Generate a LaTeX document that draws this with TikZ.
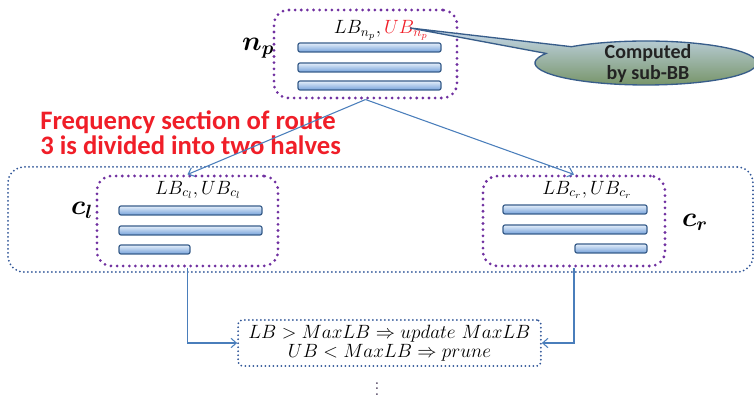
\documentclass[tikz,border=0pt]{standalone}
\usepackage{amsmath}
\usepackage{fontspec}
\newfontfamily\carlito{Carlito}
\usetikzlibrary{arrows.meta,shapes.callouts}

\definecolor{bbpurple}{RGB}{112,48,160}
\definecolor{bbblue}{RGB}{47,85,151}
\definecolor{linkblue}{RGB}{74,126,187}
\definecolor{barline}{RGB}{56,93,138}
\definecolor{bartop}{RGB}{228,238,250}
\definecolor{barbot}{RGB}{118,162,218}
\definecolor{bbred}{RGB}{240,30,40}
\definecolor{calltop}{RGB}{200,218,240}
\definecolor{callbot}{RGB}{115,145,98}
\definecolor{darktext}{RGB}{35,35,35}
\definecolor{dotgray}{RGB}{63,49,81}

\tikzset{
  nodebox/.style={draw=bbpurple,line width=2.3pt,line cap=round,dash pattern=on 0pt off 4.6pt,rounded corners=11pt,inner sep=0pt},
  groupbox/.style={draw=bbblue,line width=1.5pt,line cap=round,dash pattern=on 0pt off 3pt,rounded corners=12pt,inner sep=0pt},
  rulebox/.style={groupbox,rounded corners=3pt},
  bar/.style={draw=barline,line width=0.9pt,rounded corners=1.5pt,top color=bartop,bottom color=barbot},
  link/.style={draw=linkblue,line width=0.8pt,-{Straight Barb[length=4pt,width=7pt]}},
  boundtext/.style={font=\fontsize{14}{17}\selectfont,inner sep=0pt},
  nodetag/.style={font=\fontsize{20}{21}\selectfont,inner sep=0pt}
}

\begin{document}
\begin{tikzpicture}[x=0.75pt,y=-0.75pt]
    \useasboundingbox (0,0) rectangle (754,398);
    \node[groupbox,minimum width=558.75pt,minimum height=78.75pt] (group) at (380.5,219.5) {};
    \node[nodebox,minimum width=137.25pt,minimum height=66pt] (np) at (365.5,54) {};
    \node[nodebox,minimum width=135.75pt,minimum height=67.5pt] (cl) at (187.5,221) {};
    \node[nodebox,minimum width=136.5pt,minimum height=67.5pt] (cr) at (574,221) {};
    \node[rulebox,minimum width=227pt,minimum height=34.5pt,align=center,font=\fontsize{14}{14.5}\selectfont] (rule) at (389.5,343)
        {$LB>MaxLB\Rightarrow update\ MaxLB$\\$UB<MaxLB\Rightarrow prune$};

    \foreach \y in {43,63,81} \draw[bar] (298,\y) rectangle (441,\y+9);
    \foreach \y/\xr in {206/262,226/262,245/190} \draw[bar] (119,\y) rectangle (\xr,\y+9);
    \foreach \y/\xl in {205/503,225/503,244/575} \draw[bar] (\xl,\y) rectangle (647,\y+9);

    \node[boundtext] (nplab) at (381,30) {$LB_{n_p}, {\color{bbred}UB_{n_p}}$};
    \node[boundtext] (cllab) at (198,190) {$LB_{c_l},UB_{c_l}$};
    \node[boundtext] (crlab) at (587,190) {$LB_{c_r},UB_{c_r}$};
    \node[nodetag] (nptag) at (258,48) {$\boldsymbol{n_p}$};
    \node[nodetag] (cltag) at (82,210) {$\boldsymbol{c_l}$};
    \node[nodetag] (crtag) at (695,222) {$\boldsymbol{c_r}$};

    \node[font=\carlito\bfseries\fontsize{20}{18.5}\selectfont,text=bbred,align=left,anchor=west,inner sep=0pt] (note) at (40,133)
        {Frequency section of route\\3 is divided into two halves};

    \coordinate (tip) at (410,28);
    \node[ellipse callout,callout absolute pointer=(tip),callout pointer arc=22,draw=barline,line width=1pt,
        top color=calltop,bottom color=callbot,minimum width=166.5pt,minimum height=33pt,inner sep=0pt] (bubble) at (646,63) {};
    \node[font=\carlito\bfseries\fontsize{15}{15.75}\selectfont,text=darktext,align=center,inner sep=0pt] (subbb) at (648,64)
        {Computed\\by sub-BB};

    \draw[link] (np.south) -- (cl.north);
    \draw[link] (np.south) -- (cr.north);
    \draw[link] (cl.south) |- (rule.west);
    \draw[link] (cr.south) |- (rule.east);

    \node[font=\fontsize{16}{16}\selectfont,text=dotgray,inner sep=0pt] (more) at (377,385) {$\boldsymbol{\vdots}$};
\end{tikzpicture}
\end{document}
